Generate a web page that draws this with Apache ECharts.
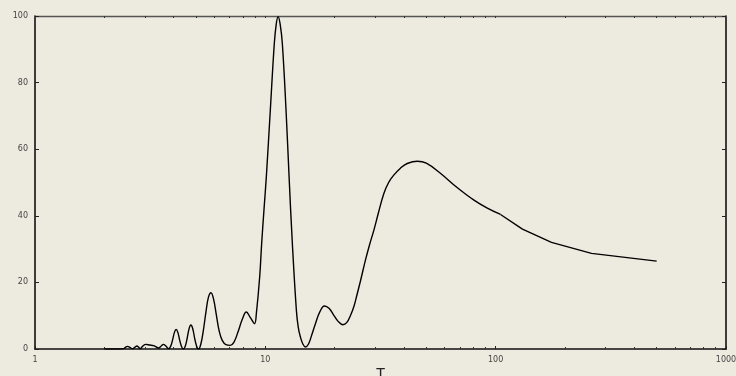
<!DOCTYPE html>
<html>
<head>
<meta charset="utf-8">
<script src="https://cdn.jsdelivr.net/npm/echarts@6/dist/echarts.min.js"></script>
<style>
  html, body { margin: 0; padding: 0; background: #edeadf; }
  #chart { width: 736px; height: 376px; }
</style>
</head>
<body>
<div id="chart"></div>
<script>
// smooth part of the curve (T, value)
var tSmooth = [2.0, 2.3, 2.42, 2.47, 2.52, 2.58, 2.65, 2.71, 2.77, 2.82, 2.86, 2.93, 3.03, 3.15, 3.27, 3.36, 3.44,
  3.53, 3.61, 3.70, 3.80, 3.88, 3.96, 4.03, 4.10, 4.17, 4.25, 4.33, 4.41,
  4.49, 4.58, 4.67, 4.75, 4.84, 4.94, 5.04, 5.13,
  5.25, 5.38, 5.52, 5.66, 5.81, 5.96, 6.12, 6.3, 6.5, 6.75, 7.04,
  7.3, 7.6, 7.95, 8.27, 8.6, 8.98, 9.14, 9.45, 9.64, 9.87, 10.1, 10.51, 10.94, 11.15, 11.36, 11.6, 11.85,
  12.3, 12.68, 13.1, 13.64, 13.9, 14.2, 14.55, 14.93, 15.4, 15.9, 16.5, 17.2, 18.06, 18.9, 19.8, 20.7, 21.7,
  22.6, 23.4, 24.2, 25.0, 25.9, 27.2, 28.4, 29.6, 31.0, 32.7, 34.3, 36.1, 38.6, 41.3, 45.7, 50, 57.7, 68, 80.5, 92, 105];
var vSmooth = [0, 0, 0.1, 0.5, 0.8, 0.5, 0.1, 0.5, 0.9, 0.5, 0.1, 0.8, 1.4, 1.2, 1.0, 0.6, 0.3,
  0.9, 1.4, 0.9, 0.1, 0.8, 2.8, 5.0, 5.9, 5.0, 2.6, 0.7, 0,
  0.8, 3.3, 6.2, 7.2, 6.1, 3.0, 0.7, 0,
  1.5, 5.5, 11.0, 15.5, 16.9, 15.0, 10.5, 5.5, 2.6, 1.3, 1.1,
  2.0, 5.0, 9.0, 11.1, 9.5, 7.6, 10.6, 21.6, 31.7, 42.0, 51.7, 71.7, 91.8, 97.5, 99.8, 97.5, 91.8,
  71.7, 51.7, 31.7, 11.6, 6.5, 3.6, 1.5, 0.6, 1.5, 4.2, 7.6, 11.0, 12.9, 12.2, 10.2, 8.3, 7.3,
  8.0, 10.0, 12.6, 16.3, 20.5, 26.7, 31.5, 35.7, 41.0, 46.7, 50.0, 52.2, 54.3, 55.7, 56.4, 55.8, 52.7, 48.5, 44.7, 42.3, 40.4];
// straight tail
var tTail = [105, 130.7, 174.7, 260.7, 500];
var vTail = [40.4, 36.0, 32.0, 28.7, 26.4];

var xLabels = ['1', '10', '100', '1000'];
var yTicks = [0, 20, 40, 60, 80, 100];

// minor tick positions of the log axis, in decades (log10 T)
var minorTicks = [];
for (var d = 0; d < 3; d++) {
  for (var k = 2; k <= 9; k++) minorTicks.push(d + Math.log10(k));
}

function pairs (xs, ys) {
  return xs.map(function (x, i) { return [x, ys[i]] })
}

var chart = echarts.init(document.getElementById('chart'))
var textStyle = { color: '#444', fontSize: 8, fontFamily: 'DejaVu Sans, sans-serif' }

chart.setOption({
  backgroundColor: '#edeadf',
  animation: false,
  grid: { left: 35, right: 10, top: 16, bottom: 27, containLabel: false, outerBoundsMode: 'none' },
  xAxis: [
    {
      type: 'log',
      logBase: 10,
      min: 1,
      max: 1000,
      position: 'bottom',
      name: 'T',
      nameLocation: 'middle',
      nameGap: 17,
      nameMoveOverlap: false,
      nameTextStyle: { color: '#222', fontSize: 15, fontFamily: 'Liberation Sans, Arial, sans-serif', verticalAlign: 'top' },
      axisLine: { show: true, onZero: false, lineStyle: { color: '#111', width: 1.6 } },
      axisTick: { show: true, inside: true, length: 3, lineStyle: { color: '#222' } },
      axisLabel: Object.assign({ margin: 7, formatter: function (v) { return xLabels[Math.round(Math.log10(v))] } }, textStyle),
      splitLine: { show: false }
    },
    {
      type: 'value', min: 0, max: 3, position: 'bottom', gridIndex: 0,
      axisLine: { show: false },
      axisTick: { show: true, inside: true, length: 2, customValues: minorTicks, lineStyle: { color: '#333' } },
      axisLabel: { show: false },
      splitLine: { show: false }
    },
    {
      type: 'value', min: 0, max: 3, position: 'top', gridIndex: 0,
      axisLine: { show: true, onZero: false, lineStyle: { color: '#555', width: 1.3 } },
      axisTick: { show: true, inside: true, length: 2, customValues: minorTicks.concat([1, 2]), lineStyle: { color: '#333' } },
      axisLabel: { show: false },
      splitLine: { show: false }
    }
  ],
  yAxis: [
    {
      type: 'value',
      min: 0,
      max: 100,
      interval: 20,
      position: 'left',
      axisLine: { show: true, onZero: false, lineStyle: { color: '#111', width: 1.6 } },
      axisTick: { show: true, inside: true, length: 4, lineStyle: { color: '#222' } },
      axisLabel: Object.assign({ margin: 7, formatter: function (v) { return yTicks.indexOf(v) >= 0 ? String(v) : '' } }, textStyle),
      splitLine: { show: false }
    },
    {
      type: 'value',
      min: 0,
      max: 100,
      interval: 20,
      position: 'right',
      axisLine: { show: true, onZero: false, lineStyle: { color: '#111', width: 1.6 } },
      axisTick: { show: true, inside: true, length: 4, lineStyle: { color: '#222' } },
      axisLabel: { show: false },
      splitLine: { show: false }
    }
  ],
  series: [
    {
      type: 'line',
      xAxisIndex: 0,
      yAxisIndex: 0,
      data: pairs(tSmooth, vSmooth),
      smooth: 0.4,
      showSymbol: false,
      lineStyle: { color: '#000', width: 1.4 }
    },
    {
      type: 'line',
      xAxisIndex: 0,
      yAxisIndex: 0,
      data: pairs(tTail, vTail),
      smooth: false,
      showSymbol: false,
      lineStyle: { color: '#000', width: 1.4 }
    }
  ]
})
</script>
</body>
</html>
